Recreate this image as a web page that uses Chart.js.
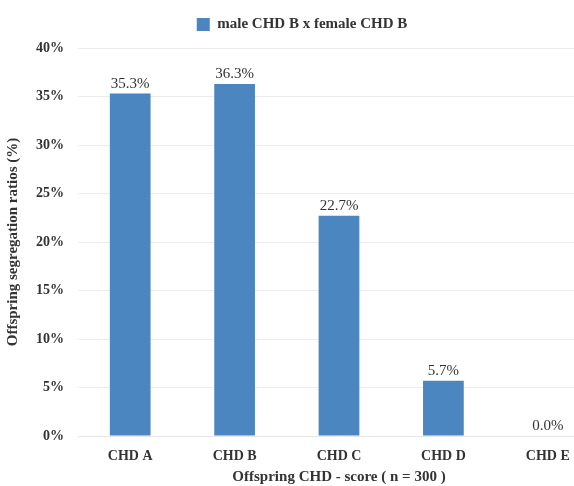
<!DOCTYPE html>
<html>
<head>
<meta charset="utf-8">
<script src="https://cdn.jsdelivr.net/npm/chart.js@4/dist/chart.umd.min.js"></script>
<style>
  html, body { margin: 0; padding: 0; background: #fff; overflow: hidden; }
  #wrap { width: 630px; height: 486px; }
</style>
</head>
<body>
<div id="wrap"><canvas id="c" width="630" height="486"></canvas></div>
<script>
// data
const categories = ['CHD A', 'CHD B', 'CHD C', 'CHD D', 'CHD E'];
const ratios = [35.3, 36.3, 22.7, 5.7, 0.0];
const seriesName = 'male CHD B x female CHD B';
const yTicks = [0, 5, 10, 15, 20, 25, 30, 35, 40];

const FONT = "'Liberation Serif', 'DejaVu Serif', serif";
const BAR = '#4b86c1';

// value labels above bars
const valueLabels = {
  id: 'valueLabels',
  afterDatasetsDraw(chart) {
    const ctx = chart.ctx;
    const meta = chart.getDatasetMeta(0);
    ctx.save();
    ctx.font = '15px ' + FONT;
    ctx.fillStyle = '#333';
    ctx.textAlign = 'center';
    ctx.textBaseline = 'bottom';
    meta.data.forEach((bar, i) => {
      ctx.fillText(ratios[i].toFixed(1) + '%', bar.x, bar.y - 2);
    });
    ctx.restore();
  }
};

// extra gap under the legend
const legendSpacer = {
  id: 'legendSpacer',
  beforeInit(chart) {
    const fit = chart.legend.fit;
    chart.legend.fit = function () {
      fit.call(this);
      this.height += 6;
    };
  }
};

new Chart(document.getElementById('c'), {
  type: 'bar',
  data: {
    labels: categories,
    datasets: [{
      label: seriesName,
      data: ratios,
      backgroundColor: BAR,
      borderWidth: 0,
      barPercentage: 0.39,
      categoryPercentage: 1.0
    }]
  },
  options: {
    responsive: false,
    animation: false,
    layout: { padding: { left: 4, right: 30, top: 2, bottom: 0 } },
    plugins: {
      legend: {
        display: true,
        position: 'top',
        labels: {
          boxWidth: 13,
          boxHeight: 13,
          color: '#333',
          padding: 15,
          font: { family: FONT, size: 15, weight: 'bold' }
        }
      },
      tooltip: { enabled: false }
    },
    scales: {
      x: {
        grid: { display: false },
        border: { display: true, color: '#e6e6e6' },
        afterFit(scale) { scale.height = 50; },
        ticks: {
          color: '#333',
          padding: 4,
          font: { family: FONT, size: 14, weight: 'bold' }
        },
        title: {
          display: true,
          text: 'Offspring CHD - score ( n = 300 )',
          color: '#333',
          padding: { top: 0, bottom: 0 },
          font: { family: FONT, size: 15, weight: 'bold' }
        }
      },
      y: {
        min: 0,
        max: 40,
        afterBuildTicks(scale) {
          scale.ticks = yTicks.map(v => ({ value: v }));
        },
        afterFit(scale) { scale.width = 74; },
        grid: { color: '#ececec', drawTicks: false },
        border: { display: false },
        ticks: {
          color: '#333',
          padding: 14,
          font: { family: FONT, size: 14, weight: 'bold' },
          callback: v => v + '%'
        },
        title: {
          display: true,
          text: 'Offspring segregation ratios (%)',
          color: '#333',
          padding: { top: 0, bottom: 4 },
          font: { family: FONT, size: 15, weight: 'bold' }
        }
      }
    }
  },
  plugins: [valueLabels, legendSpacer]
});
</script>
</body>
</html>
